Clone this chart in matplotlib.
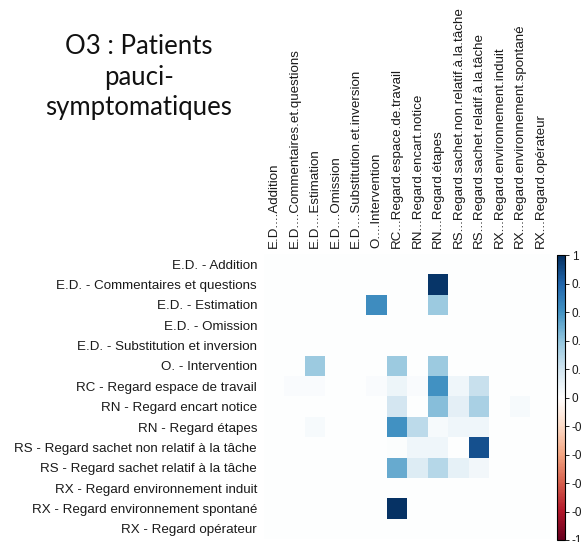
import numpy as np
import matplotlib
matplotlib.use("Agg")
import matplotlib.pyplot as plt
from matplotlib.colors import LinearSegmentedColormap, Normalize
from matplotlib.colorbar import ColorbarBase

row_labels = [
    "E.D. - Addition",
    "E.D. - Commentaires et questions",
    "E.D. - Estimation",
    "E.D. - Omission",
    "E.D. - Substitution et inversion",
    "O. - Intervention",
    "RC - Regard espace de travail",
    "RN - Regard encart notice",
    "RN - Regard étapes",
    "RS - Regard sachet non relatif à la tâche",
    "RS - Regard sachet relatif à la tâche",
    "RX - Regard environnement induit",
    "RX - Regard environnement spontané",
    "RX - Regard opérateur",
]

col_labels = [
    "E.D....Addition",
    "E.D....Commentaires.et.questions",
    "E.D....Estimation",
    "E.D....Omission",
    "E.D....Substitution.et.inversion",
    "O....Intervention",
    "RC...Regard.espace.de.travail",
    "RN...Regard.encart.notice",
    "RN...Regard.étapes",
    "RS...Regard.sachet.non.relatif.à.la.tâche",
    "RS...Regard.sachet.relatif.à.la.tâche",
    "RX...Regard.environnement.induit",
    "RX...Regard.environnement.spontané",
    "RX...Regard.opérateur",
]

#        0     1     2     3     4     5     6     7     8     9     10    11    12    13
corr = [
    [0.00, 0.00, 0.00, 0.00, 0.00, 0.00, 0.00, 0.00, 0.00, 0.00, 0.00, 0.00, 0.00, 0.00],
    [0.00, 0.00, 0.00, 0.00, 0.00, 0.00, 0.00, 0.00, 0.97, 0.00, 0.00, 0.00, 0.00, 0.00],
    [0.00, 0.00, 0.00, 0.00, 0.00, 0.62, 0.00, 0.00, 0.36, 0.00, 0.00, 0.00, 0.00, 0.00],
    [0.00, 0.00, 0.00, 0.00, 0.00, 0.00, 0.00, 0.00, 0.00, 0.00, 0.00, 0.00, 0.00, 0.00],
    [0.00, 0.00, 0.00, 0.00, 0.00, 0.00, 0.00, 0.00, 0.00, 0.00, 0.00, 0.00, 0.00, 0.00],
    [0.00, 0.00, 0.36, 0.00, 0.00, 0.00, 0.36, 0.00, 0.36, 0.00, 0.00, 0.00, 0.00, 0.00],
    [0.00, 0.02, 0.02, 0.00, 0.00, 0.02, 0.07, 0.02, 0.60, 0.06, 0.22, 0.00, 0.00, 0.00],
    [0.00, 0.00, 0.00, 0.00, 0.00, 0.00, 0.18, 0.00, 0.42, 0.11, 0.32, 0.00, 0.03, 0.00],
    [0.00, 0.00, 0.03, 0.00, 0.00, 0.00, 0.60, 0.26, 0.03, 0.06, 0.06, 0.00, 0.00, 0.00],
    [0.00, 0.00, 0.00, 0.00, 0.00, 0.00, 0.01, 0.06, 0.06, 0.00, 0.87, 0.00, 0.00, 0.00],
    [0.00, 0.00, 0.00, 0.00, 0.00, 0.00, 0.50, 0.15, 0.28, 0.10, 0.05, 0.00, 0.00, 0.00],
    [0.00, 0.00, 0.00, 0.00, 0.00, 0.00, 0.00, 0.00, 0.00, 0.00, 0.00, 0.00, 0.00, 0.00],
    [0.00, 0.00, 0.00, 0.00, 0.00, 0.00, 0.98, 0.00, 0.00, 0.00, 0.00, 0.00, 0.00, 0.00],
    [0.00, 0.00, 0.00, 0.00, 0.00, 0.00, 0.00, 0.00, 0.00, 0.00, 0.00, 0.00, 0.00, 0.00],
]

cbar_ticks = [1, 0.8, 0.6, 0.4, 0.2, 0, -0.2, -0.4, -0.6, -0.8, -1]

# corrplot-style diverging palette, white at zero
palette = ["#67001F", "#B2182B", "#D6604D", "#F4A582", "#FDDBC7", "#FFFFFF",
           "#D1E5F0", "#92C5DE", "#4393C3", "#2166AC", "#053061"]
cmap = LinearSegmentedColormap.from_list("corr", palette, N=200)
norm = Normalize(vmin=-1, vmax=1)

W, H = 581, 542
fig = plt.figure(figsize=(W / 100, H / 100), dpi=100)
fig.patch.set_facecolor("white")

label_font = {"family": "Liberation Sans", "size": 9.6, "color": "#1a1a1a"}

# heatmap
ax = fig.add_axes([264 / W, 1 - 539 / H, 287 / W, 285 / H])
data = np.array(corr)
n_rows, n_cols = data.shape
ax.imshow(data, cmap=cmap, norm=norm, aspect="auto", interpolation="nearest")
ax.set_xlim(-0.5, n_cols - 0.5)
ax.set_ylim(n_rows - 0.5, -0.5)
for s in ax.spines.values():
    s.set_visible(False)

ax.xaxis.tick_top()
ax.set_xticks(np.arange(n_cols))
ax.set_xticklabels(col_labels, rotation=90, fontdict=label_font)
ax.set_yticks(np.arange(n_rows))
ax.set_yticklabels(row_labels, fontdict=label_font)
ax.tick_params(axis="x", length=0, pad=4)
ax.tick_params(axis="y", length=0, pad=5)

# colour bar on the right edge
cax = fig.add_axes([557 / W, 1 - 540 / H, 8 / W, 285 / H])
cb = ColorbarBase(cax, cmap=cmap, norm=norm, orientation="vertical")
cb.set_ticks(cbar_ticks)
cb.set_ticklabels(["%g" % t for t in cbar_ticks])
cb.outline.set_linewidth(0.8)
cax.tick_params(axis="y", length=3, width=0.6, pad=2, labelsize=8.5, labelcolor="#1a1a1a")
for lab in cax.get_yticklabels():
    lab.set_family("Liberation Sans")

# title block
fig.text(139 / W, 1 - 77 / H, "O3 : Patients\npauci-\nsymptomatiques",
         ha="center", va="center", family="Lato", fontsize=18.5,
         linespacing=1.3, color="#111111")

fig.savefig("out.png", dpi=100, facecolor="white")
